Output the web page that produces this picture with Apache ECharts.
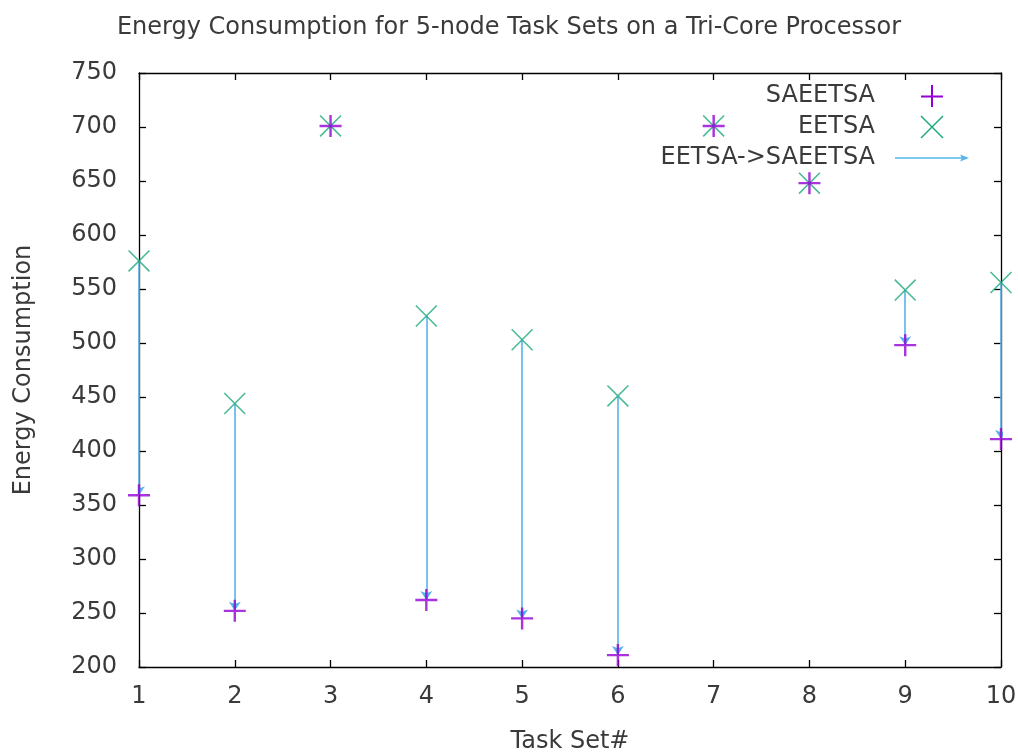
<!DOCTYPE html>
<html>
<head>
<meta charset="utf-8">
<script src="https://cdn.jsdelivr.net/npm/echarts@6/dist/echarts.min.js"></script>
<style>html,body{margin:0;padding:0;background:#fff}#c{width:1018px;height:754px}</style>
</head>
<body>
<div id="c"></div>
<script>
const taskSets = [1, 2, 3, 4, 5, 6, 7, 8, 9, 10];
const saeetsa = [359, 252, 701, 262, 245, 211, 701, 648, 498, 411];
const eetsa = [576, 444, 701, 525, 503, 451, 701, 648, 549, 556];
const yTicks = [200, 250, 300, 350, 400, 450, 500, 550, 600, 650, 700, 750];

const FONT = 'DejaVu Sans';
const FS = 24;
const TXT = '#3a3a3a';
const PLUS = 'path://M0,4.45H10V5.55H0Z M4.45,0H5.55V10H4.45Z';
const CROSS = 'path://M0,0.5L0.5,0L10,9.5L9.5,10Z M10,0.5L0.5,10L0,9.5L9.5,0Z';

const sPts = taskSets.map((t, i) => [t, saeetsa[i]]);
const ePts = taskSets.map((t, i) => [t, eetsa[i]]);
const arrows = taskSets.map((t, i) => ({coords: [[t, eetsa[i]], [t, saeetsa[i]]]}))
  .filter((d, i) => eetsa[i] !== saeetsa[i]);

const axisCommon = {
  type: 'value',
  axisLine: {show: true, lineStyle: {color: '#000', width: 1.3}},
  axisTick: {show: true, inside: true, length: 7, lineStyle: {color: '#000', width: 1.3}},
  splitLine: {show: false}
};

const chart = echarts.init(document.getElementById('c'), null, {renderer: 'canvas'});
chart.setOption({
  animation: false,
  backgroundColor: '#fff',
  title: {
    text: 'Energy Consumption for 5-node Task Sets on a Tri-Core Processor',
    left: 'center', top: 11,
    textStyle: {fontFamily: FONT, fontSize: FS, fontWeight: 'normal', color: TXT}
  },
  grid: {left: 139, right: 17, top: 73, bottom: 87, containLabel: false, outerBoundsMode: 'none'},
  xAxis: [
    Object.assign({}, axisCommon, {
      position: 'bottom', min: 1, max: 10, interval: 1,
      name: 'Task Set#', nameLocation: 'middle', nameGap: 63,
      nameTextStyle: {fontFamily: FONT, fontSize: FS, color: TXT},
      axisLabel: {fontFamily: FONT, fontSize: FS, color: TXT, margin: 18}
    }),
    Object.assign({}, axisCommon, {
      position: 'top', min: 1, max: 10, interval: 1, axisLabel: {show: false}
    })
  ],
  yAxis: [
    Object.assign({}, axisCommon, {
      position: 'left', min: yTicks[0], max: yTicks[yTicks.length - 1], interval: yTicks[1] - yTicks[0],
      name: 'Energy Consumption', nameLocation: 'middle', nameGap: 103,
      nameTextStyle: {fontFamily: FONT, fontSize: FS, color: TXT},
      axisLabel: {fontFamily: FONT, fontSize: FS, color: TXT, margin: 22}
    }),
    Object.assign({}, axisCommon, {
      position: 'right', min: yTicks[0], max: yTicks[yTicks.length - 1], interval: yTicks[1] - yTicks[0],
      axisLabel: {show: false}
    })
  ],
  series: [
    {
      name: 'EETSA->SAEETSA', type: 'lines', coordinateSystem: 'cartesian2d',
      xAxisIndex: 0, yAxisIndex: 0,
      data: arrows, symbol: ['none', 'arrow'], symbolSize: [7, 9],
      lineStyle: {color: '#56b4e9', width: 1.6, opacity: 1},
      z: 3
    },
    {
      name: 'EETSA', type: 'scatter', data: ePts, symbol: CROSS, symbolSize: 22,
      itemStyle: {color: '#1aa97c'}, z: 4
    },
    {
      name: 'SAEETSA', type: 'scatter', data: sPts, symbol: PLUS, symbolSize: 22,
      itemStyle: {color: '#9400d3'}, z: 5
    }
  ],
  graphic: [
    {type: 'text', x: 875, y: 96, style: {text: 'SAEETSA', font: FS + 'px "DejaVu Sans"', fill: TXT, align: 'right', verticalAlign: 'middle'}},
    {type: 'text', x: 875, y: 127, style: {text: 'EETSA', font: FS + 'px "DejaVu Sans"', fill: TXT, align: 'right', verticalAlign: 'middle'}},
    {type: 'text', x: 875, y: 158, style: {text: 'EETSA->SAEETSA', font: FS + 'px "DejaVu Sans"', fill: TXT, align: 'right', verticalAlign: 'middle'}},
    {type: 'rect', shape: {x: 921, y: 95.5, width: 22, height: 2}, style: {fill: '#9400d3'}},
    {type: 'rect', shape: {x: 931, y: 85, width: 2, height: 22}, style: {fill: '#9400d3'}},
    {type: 'line', shape: {x1: 921, y1: 116, x2: 943, y2: 138}, style: {stroke: '#1aa97c', lineWidth: 1.5}},
    {type: 'line', shape: {x1: 943, y1: 116, x2: 921, y2: 138}, style: {stroke: '#1aa97c', lineWidth: 1.5}},
    {type: 'line', shape: {x1: 895, y1: 158, x2: 962, y2: 158}, style: {stroke: '#56b4e9', lineWidth: 1.6}},
    {type: 'polygon', shape: {points: [[969, 158], [960, 154.5], [962, 158], [960, 161.5]]}, style: {fill: '#56b4e9'}}
  ]
});
</script>
</body>
</html>
